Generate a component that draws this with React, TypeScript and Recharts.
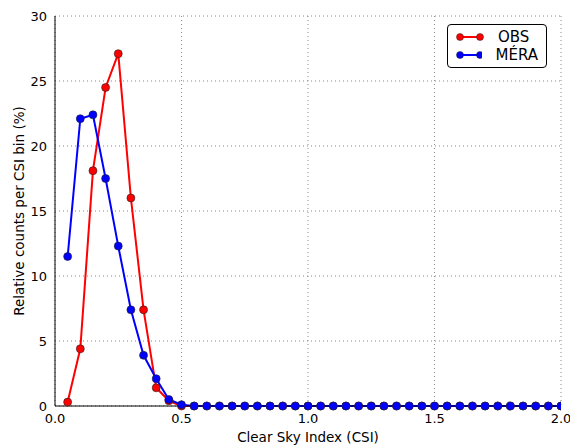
import { CartesianGrid, Line, LineChart, XAxis, YAxis } from "recharts";

const csiBins = [
  0.05, 0.1, 0.15, 0.2, 0.25, 0.3, 0.35, 0.4, 0.45, 0.5, 0.55, 0.6, 0.65, 0.7, 0.75, 0.8, 0.85, 0.9, 0.95, 1.0,
  1.05, 1.1, 1.15, 1.2, 1.25, 1.3, 1.35, 1.4, 1.45, 1.5, 1.55, 1.6, 1.65, 1.7, 1.75, 1.8, 1.85, 1.9, 1.95, 2.0,
];
const obsCounts = [
  0.3, 4.4, 18.1, 24.5, 27.1, 16.0, 7.4, 1.4, 0.4, 0, 0, 0, 0, 0, 0, 0, 0, 0, 0, 0,
  0, 0, 0, 0, 0, 0, 0, 0, 0, 0, 0, 0, 0, 0, 0, 0, 0, 0, 0, 0,
];
const meraCounts = [
  11.5, 22.1, 22.4, 17.5, 12.3, 7.4, 3.9, 2.1, 0.5, 0.1, 0, 0, 0, 0, 0, 0, 0, 0, 0, 0,
  0, 0, 0, 0, 0, 0, 0, 0, 0, 0, 0, 0, 0, 0, 0, 0, 0, 0, 0, 0,
];
const xTicks = [0, 0.5, 1, 1.5, 2];
const yTicks = [0, 5, 10, 15, 20, 25, 30];

const rows = csiBins.map((x, i) => ({ x, obs: obsCounts[i], mera: meraCounts[i] }));

const FONT = "'DejaVu Sans', sans-serif";
const series = [
  { key: "obs", label: "OBS", color: "#ff0000" },
  { key: "mera", label: "MÉRA", color: "#0000ff" },
];

// legend drawn outside the chart so it doesn't eat plot space
function LegendBox() {
  return (
    <div
      style={{
        position: "absolute",
        left: 447,
        top: 24,
        width: 100,
        boxSizing: "border-box",
        border: "1px solid #000",
        borderRadius: 4,
        background: "#fff",
        padding: "3px 8px",
        fontFamily: FONT,
        fontSize: 15,
        lineHeight: "18px",
      }}
    >
      {series.map((s) => (
        <div key={s.key} style={{ display: "flex", alignItems: "center" }}>
          <svg width={28} height={12} style={{ marginRight: 14 }}>
            <line x1={4} y1={6} x2={24} y2={6} stroke={s.color} strokeWidth={2} />
            <circle cx={4} cy={6} r={3.5} fill={s.color} stroke="#222" strokeWidth={0.5} />
            <circle cx={24} cy={6} r={3.5} fill={s.color} stroke="#222" strokeWidth={0.5} />
          </svg>
          <span>{s.label}</span>
        </div>
      ))}
    </div>
  );
}

export default function App() {
  return (
    <div style={{ position: "absolute", left: 0, top: 0, width: 570, height: 448, background: "#fff" }}>
      <LineChart width={570} height={448} data={rows} margin={{ top: 16, right: 9, bottom: 0, left: 0 }}>
        <CartesianGrid stroke="#888" strokeDasharray="1 3" />
        <XAxis
          dataKey="x"
          type="number"
          domain={[0, 2]}
          ticks={xTicks}
          tickFormatter={(v: number) => v.toFixed(1)}
          allowDataOverflow
          stroke="#000"
          tickLine={false}
          tick={{ fill: "#000", fontSize: 13, fontFamily: FONT }}
          height={42}
          label={{ value: "Clear Sky Index (CSI)", position: "insideBottom", offset: 6, fill: "#000", fontSize: 13.5, fontFamily: FONT }}
        />
        <XAxis xAxisId="top" orientation="top" dataKey="x" type="number" domain={[0, 2]} height={0} tick={false} tickLine={false} stroke="#000" />
        <YAxis
          type="number"
          domain={[0, 30]}
          ticks={yTicks}
          stroke="#000"
          tickLine={false}
          tick={{ fill: "#000", fontSize: 13, fontFamily: FONT }}
          width={55}
          label={{ value: "Relative counts per CSI bin (%)", angle: -90, position: "center", dx: -8, fill: "#000", fontSize: 13.5, fontFamily: FONT }}
        />
        <YAxis yAxisId="right" orientation="right" domain={[0, 30]} width={0} tick={false} tickLine={false} stroke="#000" />
        {series.map((s) => (
          <Line
            key={s.key}
            dataKey={s.key}
            stroke={s.color}
            strokeWidth={2}
            dot={{ r: 4, fill: s.color, stroke: "#222", strokeWidth: 0.6 }}
            isAnimationActive={false}
          />
        ))}
      </LineChart>
      <LegendBox />
    </div>
  );
}
